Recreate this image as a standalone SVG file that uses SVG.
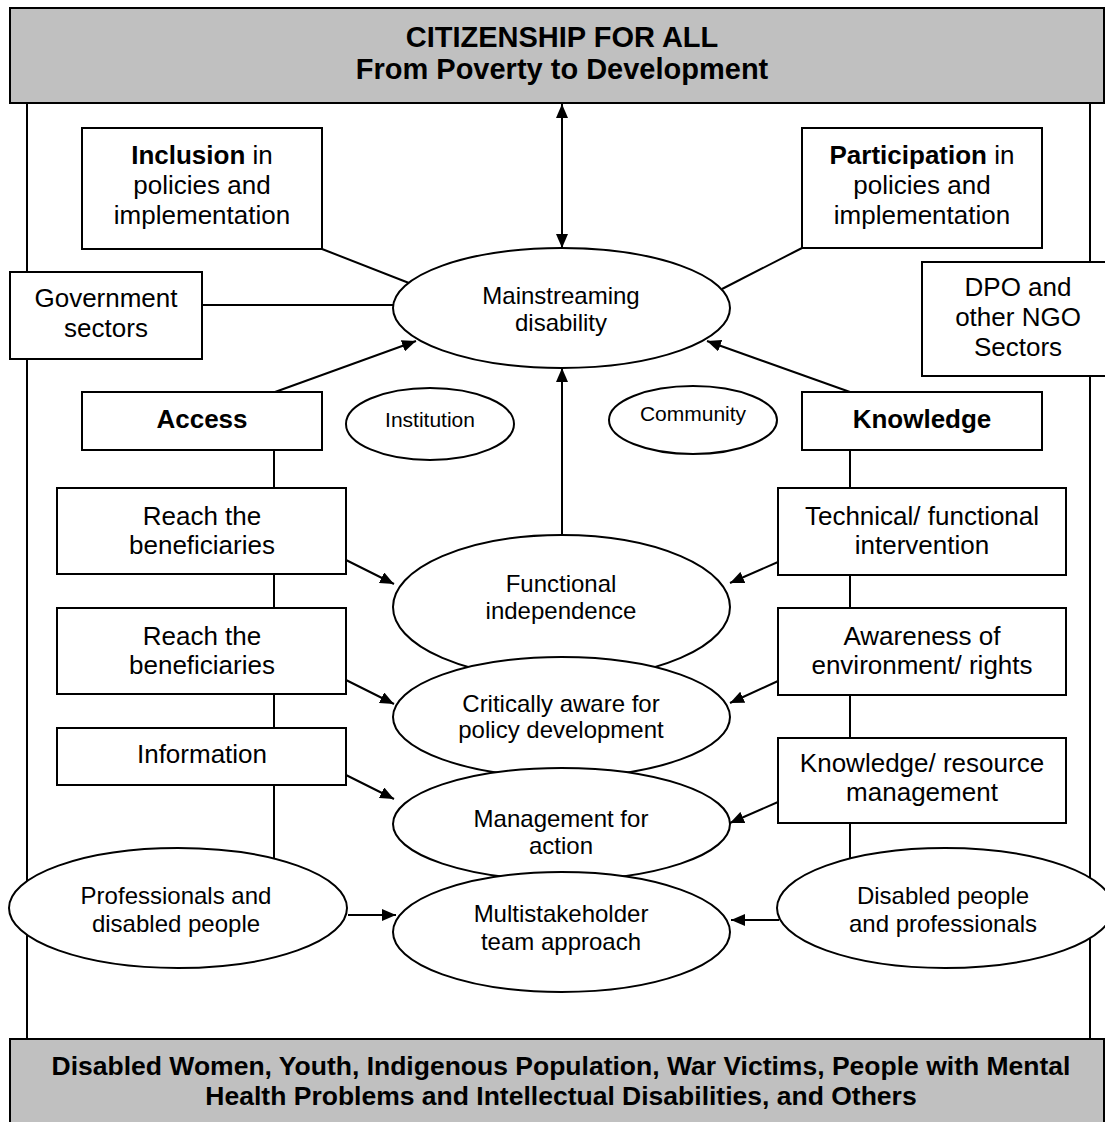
<svg xmlns="http://www.w3.org/2000/svg" width="1105" height="1122" viewBox="0 0 1105 1122">
<style>
.box{fill:#fff;stroke:#000;stroke-width:2}
.ban{fill:#c0c0c0;stroke:#000;stroke-width:2}
.ln{stroke:#000;stroke-width:2;fill:none}
.arr{marker-end:url(#ah)}
text{font-family:"Liberation Sans",Arial,Helvetica,sans-serif;fill:#000;text-anchor:middle}
.t26{font-size:26px}
.t24{font-size:24px}
.t21{font-size:21px}
.tb{font-weight:bold}
.ttl{font-size:29px;font-weight:bold}
.bot{font-size:26.5px;font-weight:bold}
</style>
<defs>
<marker id="ah" viewBox="0 0 14 12" refX="14" refY="6" markerWidth="14" markerHeight="12" markerUnits="userSpaceOnUse" orient="auto-start-reverse">
<path d="M0,0 L14,6 L0,12 z" fill="#000"/>
</marker>
</defs>
<rect width="1105" height="1122" fill="#fff"/>

<g id="connectors">
<line class="ln" x1="27" y1="103" x2="27" y2="1039"/>
<line class="ln" x1="1090" y1="103" x2="1090" y2="1039"/>
<line class="ln" x1="274" y1="450" x2="274" y2="860"/>
<line class="ln" x1="850" y1="450" x2="850" y2="860"/>
<line class="ln" x1="562" y1="104" x2="562" y2="248" marker-start="url(#ah)" marker-end="url(#ah)"/>
<line class="ln" x1="322" y1="249" x2="409" y2="283"/>
<line class="ln" x1="802" y1="248" x2="722" y2="289"/>
<line class="ln" x1="202" y1="305" x2="393" y2="305"/>
<line class="ln arr" x1="275" y1="392" x2="416" y2="341"/>
<line class="ln arr" x1="850" y1="392" x2="707" y2="341"/>
<line class="ln arr" x1="562" y1="535" x2="562" y2="368"/>
<line class="ln arr" x1="346" y1="560" x2="394" y2="584"/>
<line class="ln arr" x1="346" y1="680" x2="394" y2="704"/>
<line class="ln arr" x1="346" y1="775" x2="394" y2="799"/>
<line class="ln arr" x1="778" y1="562" x2="730" y2="583"/>
<line class="ln arr" x1="778" y1="681" x2="730" y2="703"/>
<line class="ln arr" x1="778" y1="802" x2="730" y2="823"/>
<line class="ln arr" x1="348" y1="915" x2="396" y2="915"/>
<line class="ln arr" x1="779" y1="920" x2="731" y2="920"/>
</g>

<g id="top-banner">
<rect class="ban" x="10" y="8" width="1094" height="95"/>
<text class="ttl" x="562" y="47">CITIZENSHIP FOR ALL</text>
<text class="ttl" x="562" y="79">From Poverty to Development</text>
</g>

<g id="bottom-banner">
<rect class="ban" x="10" y="1039" width="1094" height="95"/>
<text class="bot" x="561" y="1075">Disabled Women, Youth, Indigenous Population, War Victims, People with Mental</text>
<text class="bot" x="561" y="1105">Health Problems and Intellectual Disabilities, and Others</text>
</g>

<g id="inclusion">
<rect class="box" x="82" y="128" width="240" height="121"/>
<text class="t26" x="202" y="164"><tspan class="tb">Inclusion</tspan> in</text>
<text class="t26" x="202" y="194">policies and</text>
<text class="t26" x="202" y="224">implementation</text>
</g>

<g id="participation">
<rect class="box" x="802" y="128" width="240" height="120"/>
<text class="t26" x="922" y="164"><tspan class="tb">Participation</tspan> in</text>
<text class="t26" x="922" y="194">policies and</text>
<text class="t26" x="922" y="224">implementation</text>
</g>

<g id="government">
<rect class="box" x="10" y="272" width="192" height="87"/>
<text class="t26" x="106" y="307">Government</text>
<text class="t26" x="106" y="337">sectors</text>
</g>

<g id="dpo">
<rect class="box" x="922" y="262" width="190" height="114"/>
<text class="t26" x="1018" y="296">DPO and</text>
<text class="t26" x="1018" y="326">other NGO</text>
<text class="t26" x="1018" y="356">Sectors</text>
</g>

<g id="mainstreaming">
<ellipse class="box" cx="561.5" cy="308" rx="168.5" ry="60"/>
<text class="t24" x="561" y="304">Mainstreaming</text>
<text class="t24" x="561" y="331">disability</text>
</g>

<g id="access">
<rect class="box" x="82" y="392" width="240" height="58"/>
<text class="t26 tb" x="202" y="428">Access</text>
</g>

<g id="knowledge">
<rect class="box" x="802" y="392" width="240" height="58"/>
<text class="t26 tb" x="922" y="428">Knowledge</text>
</g>

<g id="institution">
<ellipse class="box" cx="430" cy="424" rx="84" ry="36"/>
<text class="t21" x="430" y="427">Institution</text>
</g>

<g id="community">
<ellipse class="box" cx="693" cy="420" rx="84" ry="34"/>
<text class="t21" x="693" y="421">Community</text>
</g>

<g id="reach1">
<rect class="box" x="57" y="488" width="289" height="86"/>
<text class="t26" x="202" y="525">Reach the</text>
<text class="t26" x="202" y="554">beneficiaries</text>
</g>

<g id="reach2">
<rect class="box" x="57" y="608" width="289" height="86"/>
<text class="t26" x="202" y="645">Reach the</text>
<text class="t26" x="202" y="674">beneficiaries</text>
</g>

<g id="information">
<rect class="box" x="57" y="728" width="289" height="57"/>
<text class="t26" x="202" y="763">Information</text>
</g>

<g id="technical">
<rect class="box" x="778" y="488" width="288" height="87"/>
<text class="t26" x="922" y="525">Technical/ functional</text>
<text class="t26" x="922" y="554">intervention</text>
</g>

<g id="awareness">
<rect class="box" x="778" y="608" width="288" height="87"/>
<text class="t26" x="922" y="645">Awareness of</text>
<text class="t26" x="922" y="674">environment/ rights</text>
</g>

<g id="knowledge-resource">
<rect class="box" x="778" y="738" width="288" height="85"/>
<text class="t26" x="922" y="772">Knowledge/ resource</text>
<text class="t26" x="922" y="801">management</text>
</g>

<g id="functional">
<ellipse class="box" cx="561.5" cy="607" rx="168.5" ry="72"/>
<text class="t24" x="561" y="592">Functional</text>
<text class="t24" x="561" y="619">independence</text>
</g>

<g id="critically">
<ellipse class="box" cx="561.5" cy="717" rx="168.5" ry="60"/>
<text class="t24" x="561" y="712">Critically aware for</text>
<text class="t24" x="561" y="738">policy development</text>
</g>

<g id="management">
<ellipse class="box" cx="561.5" cy="824" rx="168.5" ry="56"/>
<text class="t24" x="561" y="827">Management for</text>
<text class="t24" x="561" y="854">action</text>
</g>

<g id="multistakeholder">
<ellipse class="box" cx="561.5" cy="932" rx="168.5" ry="60"/>
<text class="t24" x="561" y="922">Multistakeholder</text>
<text class="t24" x="561" y="950">team approach</text>
</g>

<g id="professionals">
<ellipse class="box" cx="178" cy="908" rx="169" ry="60"/>
<text class="t24" x="176" y="904">Professionals and</text>
<text class="t24" x="176" y="932">disabled people</text>
</g>

<g id="disabled-people">
<ellipse class="box" cx="945" cy="908" rx="168" ry="60"/>
<text class="t24" x="943" y="904">Disabled people</text>
<text class="t24" x="943" y="932">and professionals</text>
</g>
</svg>
